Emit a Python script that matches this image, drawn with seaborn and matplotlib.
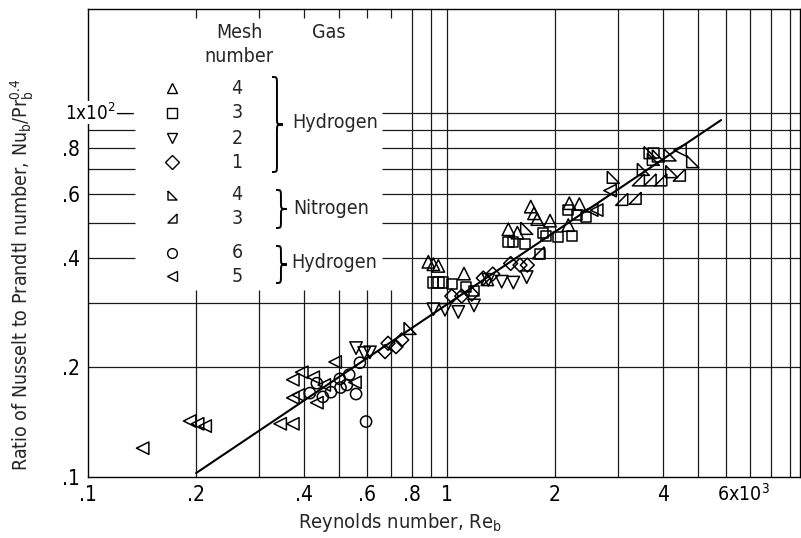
import matplotlib
matplotlib.use("Agg")
import matplotlib.pyplot as plt
import matplotlib.transforms as mt
import seaborn as sns
import pandas as pd
from matplotlib.path import Path
from matplotlib.patches import PathPatch
from matplotlib import font_manager

# ---------------- data (Re_b in 10^3, Nu_b/Pr_b^0.4 in 10^2) ----------------
h4_re = [0.887, 0.916, 0.946, 1.115, 1.295, 1.482, 1.570, 1.711, 1.747, 1.784, 1.936, 2.177, 2.191, 2.336]
h4_nu = [0.390, 0.384, 0.380, 0.362, 0.349, 0.479, 0.469, 0.553, 0.530, 0.511, 0.506, 0.492, 0.565, 0.562]

h3_re = [0.916, 0.946, 0.973, 1.031, 1.130, 1.189, 1.482, 1.530, 1.649, 1.816, 1.848, 1.887, 2.042, 2.177, 2.225, 2.297, 2.439, 3.756]
h3_nu = [0.342, 0.342, 0.342, 0.339, 0.333, 0.325, 0.443, 0.443, 0.436, 0.410, 0.469, 0.459, 0.457, 0.541, 0.459, 0.525, 0.517, 0.775]

h2_re = [0.558, 0.588, 0.610, 0.916, 0.987, 1.075, 1.189, 1.303, 1.420, 1.530, 1.667]
h2_nu = [0.226, 0.219, 0.220, 0.289, 0.288, 0.284, 0.296, 0.348, 0.344, 0.342, 0.354]

h1_re = [0.672, 0.685, 0.721, 0.748, 1.031, 1.099, 1.172, 1.262, 1.341, 1.504, 1.597, 1.674]
h1_nu = [0.221, 0.233, 0.228, 0.238, 0.314, 0.314, 0.318, 0.352, 0.361, 0.386, 0.382, 0.382]

n4_re = [0.789, 1.667, 2.905, 3.523, 3.678, 3.756, 3.879, 4.180, 4.226, 4.834]
n4_nu = [0.256, 0.482, 0.666, 0.700, 0.778, 0.746, 0.762, 0.767, 0.690, 0.735]

n3_re = [1.796, 3.066, 3.341, 3.412, 3.678, 3.939, 4.437]
n3_nu = [0.413, 0.579, 0.583, 0.655, 0.655, 0.655, 0.675]

h6_re = [0.415, 0.434, 0.451, 0.475, 0.503, 0.505, 0.526, 0.534, 0.558, 0.572, 0.595]
h6_nu = [0.170, 0.181, 0.166, 0.171, 0.186, 0.176, 0.179, 0.191, 0.169, 0.206, 0.142]

h5_re = [0.142, 0.192, 0.202, 0.212, 0.343, 0.372, 0.372, 0.385, 0.372, 0.394, 0.424, 0.434, 0.455,
         0.488, 0.554, 2.530, 2.612, 2.845, 4.457]
h5_nu = [0.120, 0.1425, 0.140, 0.138, 0.140, 0.140, 0.165, 0.168, 0.185, 0.194, 0.188, 0.160, 0.179,
         0.207, 0.182, 0.541, 0.541, 0.612, 0.791]

fit_re = [0.2, 5.8]
fit_nu = [0.1025, 0.956]

x_ticks = [0.1, 0.2, 0.4, 0.6, 0.8, 1, 2, 4]
x_ticklabels = [".1", ".2", ".4", ".6", ".8", "1", "2", "4"]
y_ticks = [0.1, 0.2, 0.4, 0.6, 0.8]
y_ticklabels = [".1", ".2", ".4", ".6", ".8"]

mesh_labels = ["4", "3", "2", "1", "4", "3", "6", "5"]

# ---------------- style ----------------
sns.set_theme(style="white")
names = {f.name for f in font_manager.fontManager.ttflist}
fam = "Liberation Sans Narrow" if "Liberation Sans Narrow" in names else "DejaVu Sans"
plt.rcParams["font.family"] = [fam, "DejaVu Sans"]
plt.rcParams["mathtext.default"] = "regular"
if fam == "DejaVu Sans":
    plt.rcParams["font.stretch"] = "condensed"

W, H = 801, 538
fig = plt.figure(figsize=(W / 100, H / 100), dpi=100)
fig.patch.set_facecolor("white")
ax = fig.add_axes([88 / W, 61 / H, 712 / W, 468 / H])
ax.set_xscale("log")
ax.set_yscale("log")
XMAX, YMAX = 9.62, 1.93
ax.set_xlim(0.1, XMAX)
ax.set_ylim(0.1, YMAX)

def F(x, y):
    return (x / W, 1 - y / H)

# right-angle triangle markers for nitrogen
m_n4 = [(-1, 1), (-1, -1), (1, -1), (-1, 1)]
m_n3 = [(1, 1), (1, -1), (-1, -1), (1, 1)]

groups = [
    ("H4", h4_re, h4_nu, "^", 80),
    ("H3", h3_re, h3_nu, "s", 55),
    ("H2", h2_re, h2_nu, "v", 80),
    ("H1", h1_re, h1_nu, "D", 50),
    ("N4", n4_re, n4_nu, m_n4, 75),
    ("N3", n3_re, n3_nu, m_n3, 75),
    ("H6", h6_re, h6_nu, "o", 65),
    ("H5", h5_re, h5_nu, "<", 80),
]

# ---------------- grid ----------------
gcol, glw = "#1a1a1a", 0.9
lg_top_y = 0.1 * 10 ** ((477 - 290) / 364)     # lower edge of key area
lg_left_x = 0.1 * 10 ** ((135 - 88) / 359)
lg_right_x = 0.1 * 10 ** ((382 - 88) / 359)
for xv in [0.2, 0.3, 0.4, 0.5, 0.6, 0.7]:
    ax.vlines(xv, 0.1, lg_top_y, color=gcol, lw=glw, zorder=1)
    ax.vlines(xv, YMAX * 10 ** (-9 / 364), YMAX, color=gcol, lw=glw, zorder=1)
for xv in [0.8, 0.9, 1, 2, 3, 4, 5, 6, 7, 8, 9]:
    ax.vlines(xv, 0.1, YMAX, color=gcol, lw=glw, zorder=1)
for yv in [0.2, 0.3]:
    ax.hlines(yv, 0.1, XMAX, color=gcol, lw=glw, zorder=1)
for yv in [0.4, 0.5, 0.6, 0.7, 0.8, 0.9, 1.0]:
    ax.hlines(yv, 0.1, lg_left_x, color=gcol, lw=glw, zorder=1)
    ax.hlines(yv, lg_right_x, XMAX, color=gcol, lw=glw, zorder=1)

# ---------------- data ----------------
for name, xs, ys, mk, s in groups:
    df = pd.DataFrame({"re": xs, "nu": ys})
    sns.scatterplot(data=df, x="re", y="nu", marker=mk, s=s, ax=ax, legend=False,
                    color="black", zorder=3)
    coll = ax.collections[-1]
    coll.set_facecolor("none")
    coll.set_edgecolor("black")
    coll.set_linewidth(1.1)

sns.lineplot(x=fit_re, y=fit_nu, ax=ax, color="black", lw=1.5, zorder=2)

# ---------------- axes ----------------
ax.minorticks_off()
ax.set_xticks(x_ticks)
ax.set_xticklabels(x_ticklabels)
ax.set_yticks(y_ticks)
ax.set_yticklabels(y_ticklabels)
ax.tick_params(axis="both", length=0, labelsize=15, colors="black")
ax.tick_params(axis="x", pad=6)
ax.tick_params(axis="y", pad=6)
for sp in ax.spines.values():
    sp.set_color("black")
    sp.set_linewidth(1.0)
ax.set_xlabel("")
ax.set_ylabel("")

t6 = ax.text(6, 0.1, "6x10$^3$", ha="left", va="top", fontsize=14, color="black")
t6.set_transform(ax.transData + mt.ScaledTranslation(-9 / 100, -6 / 100, fig.dpi_scale_trans))

ax.text(0.1355, 1.0, "1x10$^2$\u2014", ha="right", va="center", fontsize=13.5, color="black",
        bbox=dict(facecolor="white", edgecolor="none", pad=0.5), zorder=5)

fig.text(*F(400, 522), "Reynolds number, Re$_b$", ha="center", va="center", fontsize=14.5)
fig.text(*F(22, 275), "Ratio of Nusselt to Prandtl number, Nu$_b$/Pr$_b^{0.4}$",
         ha="center", va="center", rotation=90, fontsize=14)

# ---------------- key ----------------
fig.text(*F(239, 33), "Mesh", ha="center", va="center", fontsize=14)
fig.text(*F(239, 56), "number", ha="center", va="center", fontsize=14)
fig.text(*F(329, 33), "Gas", ha="center", va="center", fontsize=14)
rows_y = [88, 113, 138, 162, 195, 218, 253, 276]
for (name, xs, ys, mk, s), ry, lab in zip(groups, rows_y, mesh_labels):
    ms = 7 if mk not in (m_n4, m_n3) else 6.5
    ax.plot([172 / W], [1 - ry / H], marker=mk, ms=ms, mfc="none", mec="black", mew=1.0,
            ls="none", transform=fig.transFigure, clip_on=False)
    fig.text(*F(237, ry), lab, ha="center", va="center", fontsize=14)

def brace(x0, yt, yb, w=11):
    xm = x0 + w * 0.45
    ym = (yt + yb) / 2
    r = 7
    verts = [(x0, yt), (xm, yt), (xm, yt), (xm, yt + r),
             (xm, ym - r), (xm, ym), (xm, ym), (x0 + w, ym),
             (xm, ym), (xm, ym), (xm, ym + r),
             (xm, yb - r), (xm, yb), (xm, yb), (x0, yb)]
    codes = [Path.MOVETO, Path.CURVE4, Path.CURVE4, Path.CURVE4,
             Path.LINETO, Path.CURVE4, Path.CURVE4, Path.CURVE4,
             Path.CURVE4, Path.CURVE4, Path.CURVE4,
             Path.LINETO, Path.CURVE4, Path.CURVE4, Path.CURVE4]
    p = Path([F(*v) for v in verts], codes)
    fig.add_artist(PathPatch(p, facecolor="none", edgecolor="black", lw=1.4,
                             transform=fig.transFigure))

brace(272, 77, 172)
brace(276, 190, 228)
brace(276, 246, 283)
fig.text(*F(292, 122), "Hydrogen", ha="left", va="center", fontsize=14)
fig.text(*F(293, 209), "Nitrogen", ha="left", va="center", fontsize=14)
fig.text(*F(291, 262), "Hydrogen", ha="left", va="center", fontsize=14)

fig.savefig("out.png", dpi=100, facecolor="white")
